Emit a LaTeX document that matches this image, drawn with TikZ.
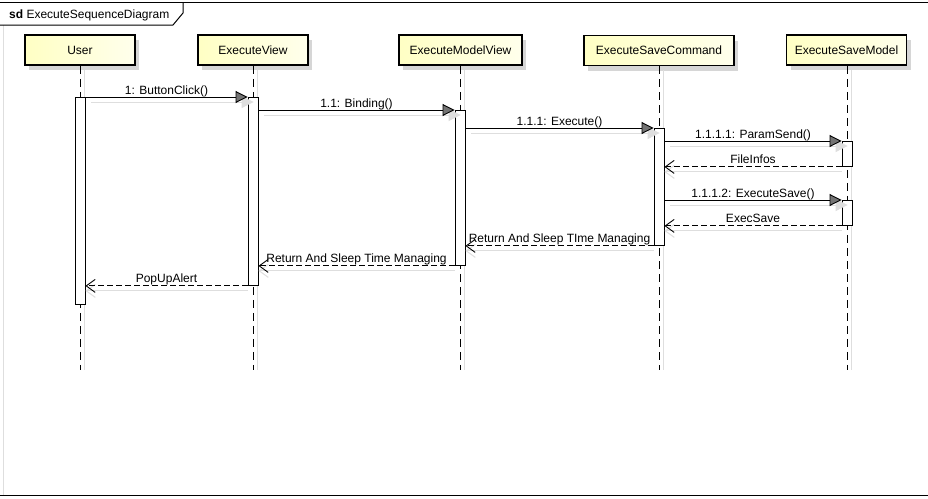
\documentclass[tikz,border=0pt]{standalone}
\usepackage{fontspec}
\setmainfont{Liberation Sans}
\usetikzlibrary{arrows.meta}
\definecolor{headY}{RGB}{255,255,196}
\definecolor{headW}{RGB}{255,255,236}
\definecolor{shad}{RGB}{214,214,214}
\definecolor{lshad}{RGB}{222,222,222}
\begin{document}
\begin{tikzpicture}[x=1pt,y=-1pt,
  every node/.style={font=\fontsize{12}{14}\selectfont},
  head/.style={draw=black, line width=1.8pt, minimum height=30pt, inner sep=0pt,
    left color=headY, right color=headW,
    preaction={fill=shad, draw=none, transform canvas={shift={(4pt,-5pt)}}}},
  life/.style={draw=black, line width=0.9pt, dash pattern=on 8pt off 5pt},
  lifesh/.style={draw=lshad, line width=1pt},
  act/.style={draw=black, line width=0.9pt, fill=white, minimum width=10pt, inner sep=0pt, anchor=north},
  call/.style={draw=black, line width=0.9pt,
    -{Triangle[length=12pt,width=12pt,fill=black!55]},
    preaction={draw=lshad, line width=1pt, -{Triangle[length=12pt,width=12pt,fill=lshad,color=lshad]}, transform canvas={shift={(6pt,-5pt)}}}},
  ret/.style={draw=black, line width=0.9pt, dash pattern=on 6pt off 3pt,
    -{Straight Barb[length=9pt,width=13pt,line width=0.9pt]},
    preaction={draw=lshad, solid, line width=1pt, -{Straight Barb[length=9pt,width=13pt,color=lshad]}, transform canvas={shift={(0pt,-5pt)}}}},
  lbl/.style={midway, anchor=base, yshift=3pt, inner sep=0pt}
]
\useasboundingbox (0,0) rectangle (928,498);
\fill[white] (0,0) rectangle (928,498);
% frame
\draw[lshad, line width=1pt] (3.5,25) -- (3.5,495);
\draw[black, line width=1pt] (0,2) -- (928,2);
\draw[black, line width=1pt] (0,495.5) -- (928,495.5);
\draw[black, line width=1pt] (0,25) -- (173,25) -- (183,13) -- (183,2);
\node[anchor=base west, inner sep=0pt] (title) at (9,18.5) {\textbf{sd} ExecuteSequenceDiagram};
% heads
\node[head, minimum width=110pt] (user) at (80,50) {User};
\node[head, minimum width=110pt] (view) at (253,50) {ExecuteView};
\node[head, minimum width=123pt] (mview) at (460.5,50) {ExecuteModelView};
\node[head, minimum width=150pt] (cmd) at (659,50.5) {ExecuteSaveCommand};
\node[head, minimum width=120pt] (model) at (846.5,50) {ExecuteSaveModel};
% lifeline ends
\coordinate (userE) at (80,370);
\coordinate (viewE) at (253,370);
\coordinate (mviewE) at (460,370);
\coordinate (cmdE) at (659,370);
\coordinate (modelE) at (847,370);
% lifelines
\foreach \n/\x in {user/80,view/253,mview/460,cmd/659,model/847}{
  \draw[lifesh] (\x+4,70) -- (\x+4,370);
}
\draw[life] (user.south) -- (userE);
\draw[life] (view.south) -- (viewE);
\draw[life] (mview.south -| mviewE) -- (mviewE);
\draw[life] (cmd.south) -- (cmdE);
\draw[life] (model.south -| modelE) -- (modelE);
% activations
\node[act, minimum height=207pt] (uA) at (80,97) {};
\node[act, minimum height=188pt] (vA) at (253,97) {};
\node[act, minimum height=155pt] (mA) at (460,110) {};
\node[act, minimum height=117pt] (cA) at (659,128) {};
\node[act, minimum height=25pt] (m1) at (847,141) {};
\node[act, minimum height=25pt] (m2) at (847,200) {};
% messages
\draw[call] (uA.north east) -- node[lbl]{1: ButtonClick()} (vA.north west);
\draw[call] (vA.east |- mA.north) -- node[lbl]{1.1: Binding()} (mA.north west);
\draw[call] (mA.east |- cA.north) -- node[lbl]{1.1.1: Execute()} (cA.north west);
\draw[call] (cA.east |- m1.north) -- node[lbl]{1.1.1.1: ParamSend()} (m1.north west);
\draw[ret] (m1.south west) -- node[lbl]{FileInfos} (cA.east |- m1.south);
\draw[call] (cA.east |- m2.north) -- node[lbl]{1.1.1.2: ExecuteSave()} (m2.north west);
\draw[ret] (m2.south west) -- node[lbl]{ExecSave} (cA.east |- m2.south);
\draw[ret] (cA.south west) -- node[lbl]{Return And Sleep TIme Managing} (mA.east |- cA.south);
\draw[ret] (mA.south west) -- node[lbl]{Return And Sleep Time Managing} (vA.east |- mA.south);
\draw[ret] (vA.south west) -- node[lbl]{PopUpAlert} (uA.east |- vA.south);
\end{tikzpicture}
\end{document}
